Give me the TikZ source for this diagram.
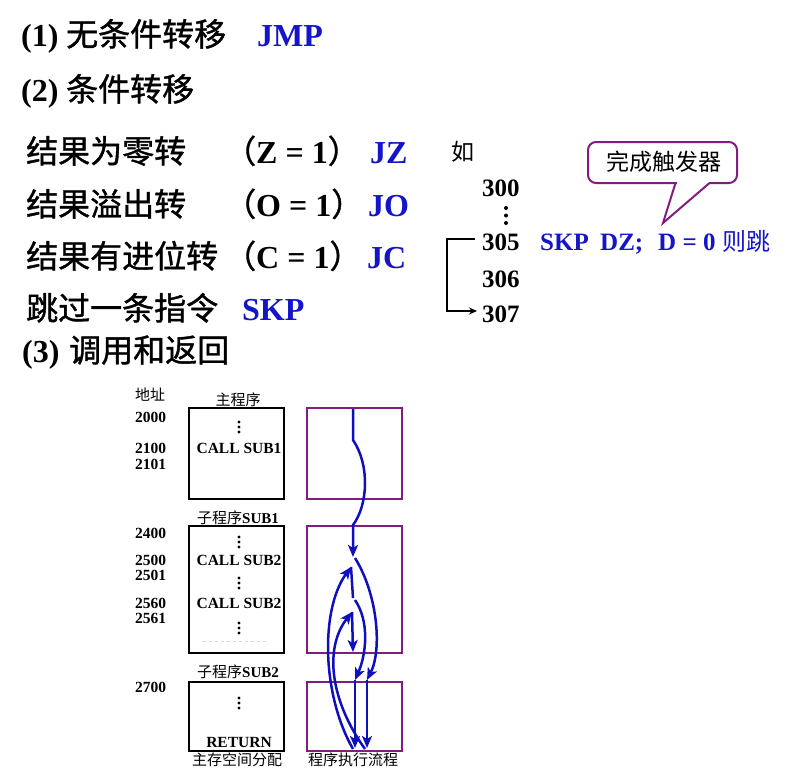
\documentclass[tikz,border=0pt]{standalone}
\usepackage{fontspec}
\setmainfont{Liberation Serif}
\newfontfamily\cjk{Noto Sans CJK SC}
\newfontfamily\cjkh{Noto Sans CJK SC}[FakeBold=1.2]
\usetikzlibrary{arrows.meta}
\definecolor{myblue}{RGB}{20,20,200}
\definecolor{mypurple}{RGB}{128,30,128}
\definecolor{flowblue}{RGB}{15,15,190}
\begin{document}
\begin{tikzpicture}[x=1pt,y=-1pt,
  big/.style={anchor=base west, inner sep=0pt, font=\fontsize{32}{38}\selectfont},
  mid/.style={anchor=base west, inner sep=0pt, font=\fontsize{25}{30}\selectfont\bfseries},
  sm/.style={inner sep=0pt, font=\fontsize{15.5}{18}\selectfont\bfseries},
  smc/.style={inner sep=0pt, font=\fontsize{15}{18}\selectfont\cjk},
  addr/.style={sm, anchor=west},
  membox/.style={draw=black, line width=2.6pt, inner sep=0pt, minimum width=95pt},
  flowbox/.style={draw=mypurple, line width=2.3pt, inner sep=0pt, minimum width=95pt},
  flow/.style={draw=flowblue, line width=2.5pt},
  fa/.style={flow, -{Stealth[length=12pt,width=10pt,inset=3pt]}},
  vdot/.style={fill=black, circle, inner sep=0pt, minimum size=4pt}
]
\useasboundingbox (0,0) rectangle (793,777);

% ---------- top part ----------
\node[big] (n1) at (21,46) {\bfseries (1)};
\node[big] (t1) at (66,46) {\cjkh 无条件转移};
\node[big, text=myblue] (jmp) at (257,46) {\bfseries JMP};

\node[big] (n2) at (21,101) {\bfseries (2)};
\node[big] (t2) at (66,101) {\cjkh 条件转移};

\node[big] (t3) at (26,163) {\cjkh 结果为零转};
\node[big] (c3) at (224,163) {{\cjkh （}\textbf{Z = 1}{\cjkh ）}};
\node[big, text=myblue] (jz) at (370,163) {\bfseries JZ};

\node[big] (t4) at (26,216) {\cjkh 结果溢出转};
\node[big] (c4) at (224,216) {{\cjkh （}\textbf{O = 1}{\cjkh ）}};
\node[big, text=myblue] (jo) at (368,216) {\bfseries JO};

\node[big] (t5) at (26,268) {\cjkh 结果有进位转};
\node[big] (c5) at (224,268) {{\cjkh （}\textbf{C = 1}{\cjkh ）}};
\node[big, text=myblue] (jc) at (367,268) {\bfseries JC};

\node[big] (t6) at (26,320) {\cjkh 跳过一条指令};
\node[big, text=myblue] (skp) at (242,320) {\bfseries SKP};

\node[big] (n3) at (22,362) {\bfseries (3)};
\node[big] (t7) at (69,362) {\cjkh 调用和返回};

% ---------- SKP example ----------
\node[anchor=base west, inner sep=0pt, font=\fontsize{23}{28}\selectfont\cjk] (ru) at (451,160) {如};
\node[mid] (a300) at (482,196) {300};
\node[vdot] (d1) at (506,208) {};
\node[vdot] (d2) at (506,215.5) {};
\node[vdot] (d3) at (506,223) {};
\node[mid] (a305) at (482,250) {305};
\node[mid] (a306) at (482,287) {306};
\node[mid] (a307) at (482,322) {307};
\coordinate (bt) at (475,239);
\coordinate (bb) at (477,311);
\draw[line width=1.8pt, -{Stealth[length=8pt,width=7pt]}] (bt) -- (447,239) |- (bb);

\node[mid, text=myblue] (s1) at (540,250) {SKP};
\node[mid, text=myblue] (s2) at (600,250) {DZ;};
\node[mid, text=myblue] (s3) at (658,250) {D = 0};
\node[anchor=base west, inner sep=0pt, font=\fontsize{24}{28}\selectfont\cjk, text=myblue] (s4) at (722,250) {则跳};

% callout
\draw[mypurple, line width=2pt, rounded corners=8pt] (588,142) rectangle (737,183);
\fill[white] (676.5,180.5) rectangle (708.5,185.5);
\draw[mypurple, line width=2pt, line join=miter] (675.5,183) -- (663,223) -- (709.5,183);
\node[font=\fontsize{23}{28}\selectfont\cjk, inner sep=0pt] (cbtext) at (664,162) {完成触发器};

% ---------- call / return diagram ----------
\node[smc] (dz) at (150,395) {地址};
\node[smc] (zcx) at (238,400) {主程序};

\node[membox, minimum height=91pt] (b1) at (236.5,453.5) {};
\node[membox, minimum height=127pt] (b2) at (236.5,589.5) {};
\node[membox, minimum height=69pt] (b3) at (236.5,716.5) {};
\node[flowbox, minimum height=91pt] (q1) at (354.5,453.5) {};
\node[flowbox, minimum height=127pt] (q2) at (354.5,589.5) {};
\node[flowbox, minimum height=69pt] (q3) at (354.5,716.5) {};

\node[addr] (a2000) at (135,417) {2000};
\node[addr] (a2100) at (135,448) {2100};
\node[addr] (a2101) at (135,464) {2101};
\node[addr] (a2400) at (135,533) {2400};
\node[addr] (a2500) at (135,560) {2500};
\node[addr] (a2501) at (135,575) {2501};
\node[addr] (a2560) at (135,603) {2560};
\node[addr] (a2561) at (135,618) {2561};
\node[addr] (a2700) at (135,687) {2700};

\foreach \yy/\nm in {427/e1, 542/e2, 583/e3, 628/e4, 703/e5}{
  \node[vdot, minimum size=3.4pt] (\nm a) at (239,\yy-5) {};
  \node[vdot, minimum size=3.4pt] (\nm b) at (239,\yy) {};
  \node[vdot, minimum size=3.4pt] (\nm c) at (239,\yy+5) {};
}
\node[sm] (cs1) at (239,448) {CALL SUB1};
\node[sm] (cs2) at (239,560) {CALL SUB2};
\node[sm] (cs3) at (239,603) {CALL SUB2};
\node[sm] (ret) at (239,742) {RETURN};
\draw[black!15, line width=1pt, dashed] (203,641) -- (268,641);

\node[inner sep=0pt] (sub1) at (238,518) {\fontsize{15}{18}\selectfont\cjk 子程序\bfseries\rmfamily SUB1};
\node[inner sep=0pt] (sub2) at (238,672) {\fontsize{15}{18}\selectfont\cjk 子程序\bfseries\rmfamily SUB2};
\node[smc] (zcfp) at (237,760) {主存空间分配};
\node[smc] (lc) at (353,760) {程序执行流程};

% flow coordinates
\coordinate (p0) at (353,409);
\coordinate (p1) at (353,440);
\coordinate (p2) at (353,525);
\coordinate (k1) at (353,557);
\coordinate (k1s) at (355,558);
\coordinate (r1) at (351,567);
\coordinate (k2) at (353,598);
\coordinate (k2s) at (355,600);
\coordinate (r2) at (352,612);
\coordinate (e2) at (353,652);
\coordinate (sA) at (367,680);
\coordinate (sB) at (355,680);
\coordinate (tA) at (367,748);
\coordinate (tB) at (355,748);
\coordinate (uA) at (365,749);
\coordinate (uB) at (353,749);

\draw[fa] (p0) -- (p1) .. controls (370,465) and (368,505) .. (p2) -- (k1);
\draw[flow] (r1) -- (k2);
\draw[fa] (r2) -- (e2);
\draw[fa] (k1s) .. controls (378,595) and (382,650) .. (sA);
\draw[fa] (k2s) .. controls (370,622) and (366,655) .. (sB);
\draw[fa] (sA) -- (tA);
\draw[fa] (sB) -- (tB);
\draw[fa] (uB) .. controls (322,695) and (320,610) .. (r1);
\draw[fa] (uA) .. controls (330,700) and (324,648) .. (r2);
\end{tikzpicture}
\end{document}
